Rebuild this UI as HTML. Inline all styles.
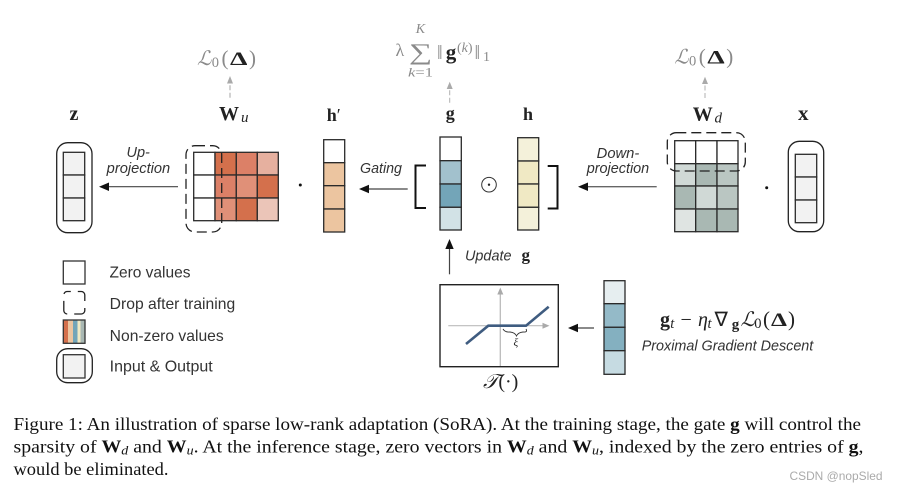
<!DOCTYPE html>
<html><head><meta charset="utf-8"><style>
html,body{margin:0;padding:0;background:#fff;width:898px;height:492px;overflow:hidden}
svg{display:block}
.s{font-family:"Liberation Sans",sans-serif;fill:#333}
.i{font-style:italic}
.m{font-family:"Liberation Serif",serif;fill:#222}
.b{font-weight:bold}
.g{fill:#8a8a8a}
.c{font-family:"Liberation Serif",serif;fill:#111;font-size:18.4px}
.cell{stroke:#2a2a2a;stroke-width:1.3}
</style></head><body>
<svg width="898" height="492" viewBox="0 0 898 492" xmlns="http://www.w3.org/2000/svg">

<!-- z -->
<rect x="56.7" y="142.7" width="35.3" height="90" rx="11" fill="#fff" stroke="#222" stroke-width="1.3"/>
<g fill="#f2f2f2" class="cell"><rect x="63.3" y="152.3" width="21.4" height="22.7"/><rect x="63.3" y="175" width="21.4" height="23"/><rect x="63.3" y="198" width="21.4" height="22.7"/></g>

<!-- Wu -->
<g class="cell">
<rect x="193.7" y="152.3" width="21.3" height="22.7" fill="#fff"/><rect x="215" y="152.3" width="21.3" height="22.7" fill="#d4704c"/><rect x="236.3" y="152.3" width="21" height="22.7" fill="#dc8067"/><rect x="257.3" y="152.3" width="21" height="22.7" fill="#e6b09f"/>
<rect x="193.7" y="175" width="21.3" height="23" fill="#fff"/><rect x="215" y="175" width="21.3" height="23" fill="#dc8067"/><rect x="236.3" y="175" width="21" height="23" fill="#e09078"/><rect x="257.3" y="175" width="21" height="23" fill="#d4704c"/>
<rect x="193.7" y="198" width="21.3" height="22.7" fill="#fff"/><rect x="215" y="198" width="21.3" height="22.7" fill="#e09078"/><rect x="236.3" y="198" width="21" height="22.7" fill="#d4704c"/><rect x="257.3" y="198" width="21" height="22.7" fill="#ebc5b8"/>
</g>
<rect x="186" y="145.7" width="35.7" height="86.3" rx="9" fill="none" stroke="#222" stroke-width="1.3" stroke-dasharray="10 5"/>

<!-- h' -->
<g class="cell">
<rect x="323.7" y="139.7" width="21" height="23" fill="#fff"/><rect x="323.7" y="162.7" width="21" height="23" fill="#ecc5a0"/><rect x="323.7" y="185.7" width="21" height="23.3" fill="#ecc5a0"/><rect x="323.7" y="209" width="21" height="23" fill="#ecc5a0"/>
</g>

<!-- g -->
<g class="cell">
<rect x="440" y="137" width="21.3" height="23.7" fill="#fff"/><rect x="440" y="160.7" width="21.3" height="23.3" fill="#a2c1cd"/><rect x="440" y="184" width="21.3" height="23.3" fill="#73a5b8"/><rect x="440" y="207.3" width="21.3" height="22.7" fill="#d2e2e6"/>
</g>

<!-- h -->
<g class="cell">
<rect x="517.7" y="137.7" width="21" height="23.3" fill="#f4f1da"/><rect x="517.7" y="161" width="21" height="23" fill="#f0e9c4"/><rect x="517.7" y="184" width="21" height="23.3" fill="#f0e9c4"/><rect x="517.7" y="207.3" width="21" height="22.7" fill="#f4f1da"/>
</g>

<!-- brackets -->
<path d="M426 165.5H415.5V208H426" fill="none" stroke="#111" stroke-width="2"/>
<path d="M547.7 166H557.5V208.5H547.7" fill="none" stroke="#111" stroke-width="2"/>
<circle cx="489" cy="184.7" r="7.3" fill="none" stroke="#333" stroke-width="1"/><circle cx="489" cy="184.7" r="1.2" fill="#222"/>

<!-- Wd -->
<g class="cell">
<rect x="674.7" y="140.7" width="21" height="23" fill="#fff"/><rect x="695.7" y="140.7" width="21.3" height="23" fill="#fff"/><rect x="717" y="140.7" width="21" height="23" fill="#fff"/>
<rect x="674.7" y="163.7" width="21" height="22.3" fill="#d0d9d6"/><rect x="695.7" y="163.7" width="21.3" height="22.3" fill="#a9b8b3"/><rect x="717" y="163.7" width="21" height="22.3" fill="#bac6c2"/>
<rect x="674.7" y="186" width="21" height="23" fill="#a9b8b3"/><rect x="695.7" y="186" width="21.3" height="23" fill="#d0d9d6"/><rect x="717" y="186" width="21" height="23" fill="#bac6c2"/>
<rect x="674.7" y="209" width="21" height="22.7" fill="#dfe4e2"/><rect x="695.7" y="209" width="21.3" height="22.7" fill="#a9b8b3"/><rect x="717" y="209" width="21" height="22.7" fill="#a9b8b3"/>
</g>
<rect x="667.3" y="132.7" width="78" height="38.3" rx="9" fill="none" stroke="#222" stroke-width="1.3" stroke-dasharray="10 5"/>

<!-- x -->
<rect x="788.3" y="141.3" width="35.4" height="90.4" rx="11" fill="#fff" stroke="#222" stroke-width="1.3"/>
<g fill="#f2f2f2" class="cell"><rect x="795.3" y="154.3" width="21.4" height="22.7"/><rect x="795.3" y="177" width="21.4" height="23"/><rect x="795.3" y="200" width="21.4" height="22.7"/></g>

<!-- dots -->
<circle cx="300.3" cy="185" r="1.5" fill="#111"/><circle cx="766.7" cy="187.7" r="1.5" fill="#111"/>

<!-- arrows -->
<path d="M178 186.7H108" stroke="#444" stroke-width="1.2" fill="none"/><path d="M99 186.7L109 182.5V191Z" fill="#111"/>
<path d="M407.7 189H368" stroke="#444" stroke-width="1.2" fill="none"/><path d="M359 189L369 184.8V193.2Z" fill="#111"/>
<path d="M656.7 186.7H587" stroke="#666" stroke-width="1.4" fill="none"/><path d="M578 186.7L588 182.5V191Z" fill="#111"/>
<path d="M594 328H576" stroke="#444" stroke-width="1.2" fill="none"/><path d="M568 328L578 323.8V332.2Z" fill="#111"/>
<path d="M449.5 274.3V248" stroke="#444" stroke-width="1.2" fill="none"/><path d="M449.5 239L445.3 249H453.7Z" fill="#111"/>

<!-- dashed grey up arrows -->
<path d="M230 97.7V83" stroke="#c4c4c4" stroke-width="1.5" stroke-dasharray="5 2.5" fill="none"/><path d="M230 76L227 83.5H233Z" fill="#aaa"/>
<path d="M449.7 102.7V88" stroke="#b0b0b0" stroke-width="1" stroke-dasharray="5 2.5" fill="none"/><path d="M449.7 81.7L446.7 89H452.7Z" fill="#aaa"/>
<path d="M705 98V84" stroke="#b0b0b0" stroke-width="1" stroke-dasharray="5 2.5" fill="none"/><path d="M705 76.7L702 84H708Z" fill="#aaa"/>

<!-- labels -->
<text x="69.5" y="120" class="m b" font-size="20">z</text>
<text x="219" y="120" class="m b" font-size="20">W</text>
<text x="241" y="122" class="m i" font-size="15" fill="#666">u</text>
<text x="326.7" y="121" class="m b" font-size="18">h<tspan font-weight="normal">′</tspan></text>
<text x="445.7" y="119" class="m b" font-size="18">g</text>
<text x="523" y="120" class="m b" font-size="18">h</text>
<text x="692.7" y="120.7" class="m b" font-size="20">W</text>
<text x="714.5" y="122.7" class="m i" font-size="15" fill="#666">d</text>
<text x="798" y="120" class="m b" font-size="21">x</text>

<!-- L0 left -->
<text x="197" y="65" class="m g i" font-size="20">ℒ</text>
<text x="211.7" y="67" class="m g" font-size="14.5">0</text>
<text x="221.5" y="65" class="m g" font-size="21">(</text>
<text x="230" y="65" class="m b" font-size="19" fill="#5c5c5c" textLength="17.5" lengthAdjust="spacingAndGlyphs">Δ</text>
<text x="249" y="65" class="m g" font-size="21">)</text>
<!-- L0 right -->
<text x="674.3" y="63.3" class="m g i" font-size="20">ℒ</text>
<text x="689" y="65.3" class="m g" font-size="14.5">0</text>
<text x="698.8" y="63.3" class="m g" font-size="21">(</text>
<text x="707.3" y="63.3" class="m b" font-size="19" fill="#5c5c5c" textLength="17.5" lengthAdjust="spacingAndGlyphs">Δ</text>
<text x="726.3" y="63.3" class="m g" font-size="21">)</text>

<!-- lambda sum -->
<text x="395.5" y="56" class="m g" font-size="18">λ</text>
<text transform="translate(409,59.3) scale(1.05,0.75)" class="m g" font-size="31">∑</text>
<text x="415.7" y="33" class="m g i" font-size="14">K</text>
<text x="408" y="76.7" class="m g" font-size="13" textLength="25" lengthAdjust="spacingAndGlyphs"><tspan class="i">k</tspan>=1</text>
<text x="437" y="59" class="m g" font-size="20">‖</text>
<text x="445.7" y="59" class="m b" font-size="21" fill="#555">g</text>
<text x="457" y="52" class="m g" font-size="14">(<tspan class="i">k</tspan>)</text>
<text x="474.5" y="59" class="m g" font-size="20">‖</text>
<text x="483" y="61" class="m g" font-size="14">1</text>

<!-- arrow labels -->
<g>
<text x="126.5" y="157" class="s i" font-size="14.5">Up-</text>
<text x="106.7" y="173" class="s i" font-size="14.5" textLength="63.5" lengthAdjust="spacingAndGlyphs">projection</text>
<text x="360" y="173" class="s i" font-size="14.5" textLength="42" lengthAdjust="spacingAndGlyphs">Gating</text>
<text x="596.7" y="158" class="s i" font-size="14.5" textLength="42.6" lengthAdjust="spacingAndGlyphs">Down-</text>
<text x="586.7" y="173" class="s i" font-size="14.5" textLength="62.5" lengthAdjust="spacingAndGlyphs">projection</text>
<text x="465" y="260.7" class="s i" font-size="14.5" textLength="46.5" lengthAdjust="spacingAndGlyphs">Update</text>
<text x="641.7" y="350.7" class="s i" font-size="14.4" textLength="171.6" lengthAdjust="spacingAndGlyphs">Proximal Gradient Descent</text>
</g>
<text x="521.5" y="260.5" class="m b" font-size="17">g</text>

<!-- legend -->
<rect x="63.3" y="261" width="21.7" height="23" fill="#fff" stroke="#333" stroke-width="1.3"/>
<rect x="63.8" y="291.5" width="21" height="22.5" rx="3.5" fill="none" stroke="#222" stroke-width="1.3" stroke-dasharray="15 7" stroke-dashoffset="11.5"/>
<g>
<rect x="63.5" y="320" width="4.5" height="23.3" fill="#d4704c"/><rect x="68" y="320" width="5" height="23.3" fill="#ecc5a0"/><rect x="73" y="320" width="4.5" height="23.3" fill="#73a5b8"/><rect x="77.5" y="320" width="3" height="23.3" fill="#f0e9c4"/><rect x="80.5" y="320" width="4.5" height="23.3" fill="#a9b8b3"/>
<rect x="63.3" y="320" width="21.7" height="23.3" fill="none" stroke="#333" stroke-width="1.3"/>
</g>
<rect x="56.7" y="348.7" width="35.6" height="34" rx="11" fill="#fff" stroke="#222" stroke-width="1.3"/>
<rect x="63.3" y="354.7" width="21.7" height="23.3" fill="#f2f2f2" stroke="#333" stroke-width="1.3"/>
<g class="s" font-size="15.6">
<text x="109.5" y="277.7" textLength="81" lengthAdjust="spacingAndGlyphs">Zero values</text>
<text x="109.7" y="309" textLength="125.5" lengthAdjust="spacingAndGlyphs">Drop after training</text>
<text x="109.7" y="341" textLength="114" lengthAdjust="spacingAndGlyphs">Non-zero values</text>
<text x="109.7" y="371.7" textLength="103" lengthAdjust="spacingAndGlyphs">Input &amp; Output</text>
</g>

<!-- T box -->
<rect x="440" y="284.7" width="118.3" height="82" fill="#fff" stroke="#222" stroke-width="1.4"/>
<path d="M500.3 366V293" stroke="#bbb" stroke-width="1.3" fill="none"/><path d="M500.3 287.5L497.3 294.5H503.3Z" fill="#aaa"/>
<path d="M448.3 325.7H544" stroke="#bbb" stroke-width="1.1" fill="none"/><path d="M549.5 325.7L542.5 322.7V328.7Z" fill="#aaa"/>
<path d="M466 344L488.3 325.7H526L548.7 306.7" fill="none" stroke="#3f5c80" stroke-width="2.6"/>
<path d="M503 329Q505 332.5 510 332Q515 332.5 516.5 336Q518 332.5 523 332Q528 332.5 526 329" fill="none" stroke="#333" stroke-width="0.9"/>
<text x="513.5" y="346" class="m i" font-size="11" fill="#444">ξ</text>
<text x="483" y="388" class="m" font-size="20" fill="#333"><tspan class="i">𝒯</tspan>(·)</text>

<!-- bottom vector -->
<g class="cell">
<rect x="604" y="280.7" width="21" height="23" fill="#e6eef0"/><rect x="604" y="303.7" width="21" height="23.6" fill="#94bac8"/><rect x="604" y="327.3" width="21" height="23.4" fill="#84b0c0"/><rect x="604" y="350.7" width="21" height="23.6" fill="#c6dbe2"/>
</g>

<!-- formula -->
<g class="m" fill="#222">
<text x="660" y="326" class="m b" font-size="20">g</text>
<text x="670.3" y="328" class="m i" font-size="14.5">t</text>
<text x="680.5" y="326" class="m" font-size="20">−</text>
<text x="698" y="326" class="m i" font-size="20">η</text>
<text x="707.5" y="328" class="m i" font-size="14.5">t</text>
<text x="714.5" y="326" class="m" font-size="20">∇</text>
<text x="731.7" y="329" class="m b" font-size="15">g</text>
<text x="740.5" y="326" class="m i" font-size="20">ℒ</text>
<text x="754.3" y="328" class="m" font-size="14.5">0</text>
<text x="763" y="326" class="m" font-size="21">(</text>
<text x="771" y="326" class="m b" font-size="19" textLength="16" lengthAdjust="spacingAndGlyphs">Δ</text>
<text x="788" y="326" class="m" font-size="21">)</text>
</g>

<!-- caption -->
<text x="13.5" y="430" class="c" textLength="847.5" lengthAdjust="spacingAndGlyphs">Figure 1: An illustration of sparse low-rank adaptation (SoRA). At the training stage, the gate <tspan font-weight="bold">g</tspan> will control the</text>
<text x="13.5" y="452.7" class="c" textLength="850" lengthAdjust="spacingAndGlyphs">sparsity of <tspan font-weight="bold">W</tspan><tspan class="i" font-size="13" dy="2">d</tspan><tspan dy="-2"> and </tspan><tspan font-weight="bold">W</tspan><tspan class="i" font-size="13" dy="2">u</tspan><tspan dy="-2">. At the inference stage, zero vectors in </tspan><tspan font-weight="bold">W</tspan><tspan class="i" font-size="13" dy="2">d</tspan><tspan dy="-2"> and </tspan><tspan font-weight="bold">W</tspan><tspan class="i" font-size="13" dy="2">u</tspan><tspan dy="-2">, indexed by the zero entries of </tspan><tspan font-weight="bold">g</tspan>,</text>
<text x="13.5" y="475" class="c" textLength="155" lengthAdjust="spacingAndGlyphs">would be eliminated.</text>
<text x="789.5" y="480" font-family="'Liberation Sans',sans-serif" font-size="12" fill="#aaa" textLength="93" lengthAdjust="spacingAndGlyphs">CSDN @nopSled</text>
</svg>
</body></html>
